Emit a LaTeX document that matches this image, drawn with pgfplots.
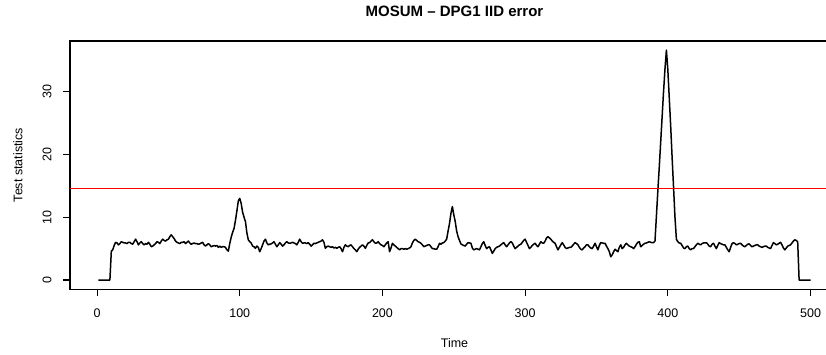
\documentclass[border=0pt]{standalone}
\usepackage{pgfplots}
\pgfplotsset{compat=1.18}
\usepackage{fontspec}
\setmainfont{Liberation Sans}
\begin{document}
\begin{tikzpicture}
\begin{axis}[
  at={(70pt,65.8pt)}, anchor=south west,
  scale only axis, width=769pt, height=248.2pt,
  xmin=-18.96, xmax=519.96, ymin=-1.464, ymax=38.06,
  axis line style={line width=1.1pt},
  xtick={0,100,200,300,400,500}, ytick={0,10,20,30},
  xtick pos=bottom, ytick pos=left,
  tick align=outside, major tick length=7.2pt,
  tick style={line width=1.1pt, black},
  /pgf/number format/assume math mode=true,
  ticklabel style={font=\fontsize{12.5}{14}\selectfont},
  xticklabel style={anchor=center, inner sep=0pt},
  xticklabel shift=16.8pt,
  yticklabel style={rotate=90, anchor=center, inner sep=0pt},
  yticklabel shift=15.8pt,
  title={MOSUM – DPG1 IID error},
  title style={at={(0.5,1)}, anchor=center, yshift=24pt, font=\bfseries\fontsize{15}{17}\selectfont},
  xlabel={Time}, ylabel={Test statistics},
  label style={font=\fontsize{12.5}{14}\selectfont},
  xlabel style={at={(axis description cs:0.5,0)}, anchor=center, yshift=-54pt},
  ylabel style={at={(axis description cs:0,0.5)}, anchor=center, yshift=52pt},
]
\addplot[black, line width=1.5pt, line join=round] coordinates {
(1,0)(9,0)(10,4.6)(11,4.8)(12,5.5)(13,6.0)(14,5.9)(15,5.6)(16,5.8)(17,6.1)(18,6.0)(19,5.9)(20,5.9)(21,5.8)(22,6.0)(23,6.0)(24,5.8)(25,5.7)(26,6.1)(27,6.5)(28,6.1)(29,5.6)(30,5.9)(31,6.1)(32,5.8)(33,5.6)(34,5.8)(35,5.7)(36,6.0)(37,5.7)(38,5.3)(39,5.4)(40,5.6)(41,5.8)(42,6.1)(43,6.0)(44,5.8)(45,6.2)(46,6.5)(47,6.3)(48,6.2)(49,6.4)(50,6.5)(51,6.9)(52,7.2)(53,6.9)(54,6.6)(55,6.2)(56,6.0)(57,5.9)(58,5.8)(59,6.0)(60,6.0)(61,6.1)(62,5.8)(63,6.0)(64,6.2)(65,5.9)(66,5.7)(67,5.8)(68,5.9)(69,5.8)(70,5.8)(71,5.7)(72,5.75)(73,5.9)(74,6.0)(75,5.6)(76,5.4)(77,5.6)(78,5.8)(79,5.6)(80,5.3)(81,5.4)(82,5.5)(83,5.4)(84,5.5)(85,5.2)(86,5.4)(87,5.2)(88,5.3)(89,5.3)(90,5.2)(91,4.8)(92,4.6)(93,5.8)(94,6.8)(95,7.6)(96,8.2)(97,9.5)(98,11.0)(99,12.6)(100,13.0)(101,12.2)(102,10.8)(103,10.0)(104,9.3)(105,7.5)(106,6.4)(107,6.1)(108,5.9)(109,5.4)(110,5.3)(111,5.05)(112,5.4)(113,5.2)(114,4.5)(115,5.0)(116,5.6)(117,6.2)(118,6.5)(119,5.9)(120,5.6)(121,5.7)(122,5.75)(123,5.9)(124,6.1)(125,5.7)(126,5.3)(127,5.6)(128,5.95)(129,5.7)(130,5.4)(131,5.6)(132,5.9)(133,6.1)(134,5.9)(135,5.85)(136,5.9)(137,6.0)(138,5.9)(139,5.8)(140,5.6)(141,6.0)(142,6.5)(143,6.1)(144,5.85)(145,5.9)(146,5.9)(147,5.8)(148,5.95)(149,5.7)(150,5.4)(151,5.6)(152,5.85)(153,5.8)(154,5.9)(155,6.0)(156,6.1)(157,6.2)(158,6.4)(159,6.0)(160,5.05)(161,5.3)(162,5.4)(163,5.3)(164,5.2)(165,5.3)(166,5.1)(167,5.2)(168,5.05)(169,5.2)(170,5.3)(171,5.0)(172,4.5)(173,5.2)(174,5.6)(175,5.4)(176,5.3)(177,5.5)(178,5.6)(179,5.3)(180,5.0)(181,4.8)(182,4.5)(183,4.9)(184,5.2)(185,5.4)(186,5.6)(187,5.4)(188,5.05)(189,5.5)(190,5.9)(191,5.95)(192,6.2)(193,6.4)(194,6.1)(195,5.85)(196,5.9)(197,6.1)(198,5.8)(199,5.6)(200,5.5)(201,5.3)(202,5.6)(203,5.9)(204,6.1)(205,4.5)(206,5.1)(207,5.85)(208,5.6)(209,5.4)(210,5.2)(211,5.0)(212,4.8)(213,5.0)(214,5.0)(215,4.9)(216,5.0)(217,4.9)(218,5.0)(219,5.1)(220,5.3)(221,5.9)(222,6.3)(223,6.5)(224,6.3)(225,6.1)(226,6.0)(227,5.85)(228,5.6)(229,5.3)(230,5.4)(231,5.5)(232,5.6)(233,5.6)(234,5.3)(235,5.0)(236,5.0)(237,4.9)(238,4.9)(239,5.3)(240,5.85)(241,5.7)(242,5.9)(243,5.95)(244,6.2)(245,6.5)(246,7.8)(247,9.0)(248,10.6)(249,11.7)(250,10.4)(251,9.3)(252,7.8)(253,6.9)(254,6.3)(255,5.75)(256,5.6)(257,5.5)(258,5.4)(259,5.7)(260,5.95)(261,5.9)(262,5.85)(263,5.1)(264,4.8)(265,4.9)(266,5.0)(267,4.9)(268,4.8)(269,5.3)(270,5.8)(271,6.1)(272,5.5)(273,5.0)(274,5.2)(275,5.3)(276,4.8)(277,4.25)(278,4.6)(279,5.0)(280,5.2)(281,5.3)(282,5.4)(283,5.6)(284,5.8)(285,5.95)(286,5.6)(287,5.3)(288,5.6)(289,5.9)(290,6.1)(291,5.9)(292,5.4)(293,5.0)(294,5.2)(295,5.4)(296,5.6)(297,5.7)(298,6.0)(299,6.3)(300,6.5)(301,6.0)(302,5.5)(303,5.0)(304,5.2)(305,5.5)(306,5.7)(307,5.85)(308,5.5)(309,5.3)(310,5.7)(311,6.1)(312,5.9)(313,5.85)(314,6.2)(315,6.7)(316,6.9)(317,6.7)(318,6.5)(319,6.2)(320,6.0)(321,5.85)(322,5.3)(323,4.8)(324,5.2)(325,5.6)(326,5.95)(327,5.6)(328,5.2)(329,5.0)(330,5.1)(331,5.2)(332,5.2)(333,5.4)(334,5.7)(335,5.95)(336,5.8)(337,5.6)(338,5.2)(339,4.9)(340,4.8)(341,5.1)(342,5.3)(343,5.6)(344,5.6)(345,5.3)(346,5.1)(347,5.0)(348,5.4)(349,5.85)(350,5.3)(351,4.8)(352,5.5)(353,5.95)(354,5.9)(355,5.85)(356,5.85)(357,5.4)(358,5.0)(359,4.5)(360,3.7)(361,4.0)(362,4.5)(363,4.9)(364,4.7)(365,4.5)(366,5.2)(367,5.6)(368,5.0)(369,5.2)(370,5.6)(371,5.85)(372,5.6)(373,5.4)(374,5.3)(375,5.2)(376,5.0)(377,5.3)(378,5.7)(379,6.0)(380,6.1)(381,5.3)(382,5.5)(383,5.7)(384,5.85)(385,5.9)(386,6.0)(387,6.1)(388,6.0)(389,5.95)(390,5.95)(391,6.2)(392,10.2)(393,14.2)(394,18.0)(395,22.0)(396,26.0)(397,30.0)(398,33.6)(399,36.6)(400,33.5)(401,29.0)(402,24.5)(403,19.5)(404,14.8)(405,10.0)(406,6.5)(407,6.1)(408,5.9)(409,5.85)(410,5.5)(411,5.1)(412,5.0)(413,5.3)(414,5.4)(415,5.0)(416,4.8)(417,5.0)(418,5.0)(419,5.3)(420,5.6)(421,5.85)(422,5.7)(423,5.6)(424,5.8)(425,5.9)(426,5.9)(427,5.95)(428,5.7)(429,5.4)(430,5.3)(431,5.7)(432,5.85)(433,5.4)(434,5.0)(435,5.5)(436,5.95)(437,5.8)(438,5.7)(439,5.6)(440,5.6)(441,5.2)(442,4.8)(443,4.5)(444,5.2)(445,5.8)(446,5.95)(447,5.8)(448,5.6)(449,5.7)(450,5.8)(451,5.85)(452,5.6)(453,5.4)(454,5.3)(455,5.5)(456,5.7)(457,5.75)(458,5.5)(459,5.3)(460,5.4)(461,5.5)(462,5.6)(463,5.6)(464,5.4)(465,5.3)(466,5.2)(467,5.3)(468,5.4)(469,5.4)(470,5.2)(471,5.1)(472,5.0)(473,5.5)(474,5.95)(475,5.8)(476,5.6)(477,5.7)(478,5.85)(479,6.0)(480,5.6)(481,5.1)(482,4.8)(483,5.1)(484,5.4)(485,5.5)(486,5.6)(487,5.9)(488,6.2)(489,6.4)(490,6.3)(491,6.1)(492,0)(500,0)
};
\addplot[red, line width=1.6pt, forget plot] coordinates {(-18.96,14.57)(519.96,14.57)};
\end{axis}
\pgfresetboundingbox
\path[use as bounding box] (0,0) rectangle (826pt,355pt);
\end{tikzpicture}
\end{document}
